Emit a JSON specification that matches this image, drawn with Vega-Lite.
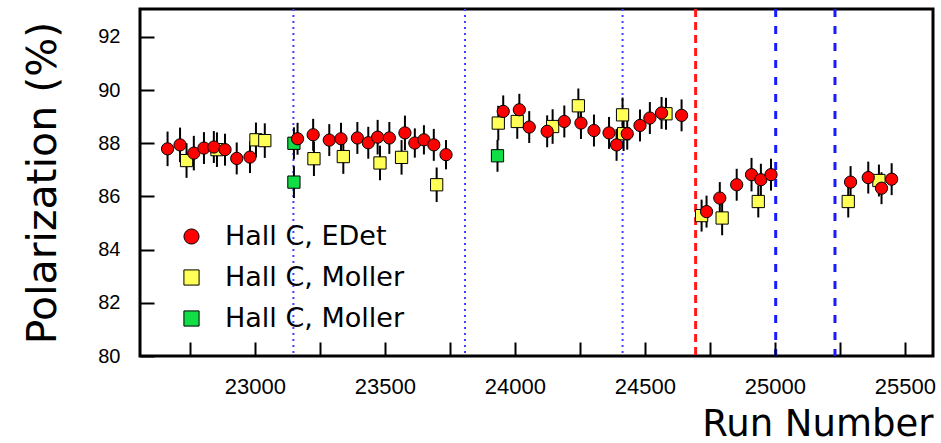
{
  "$schema": "https://vega.github.io/schema/vega-lite/v6.json",
  "width": 793,
  "height": 347,
  "autosize": {"type": "none"},
  "padding": {"left": 140, "top": 9, "right": 8, "bottom": 87},
  "background": "white",
  "config": {"view": {"stroke": "black", "strokeWidth": 3}, "font": "Liberation Sans"},
  "datasets": {
    "vlines": [
      {"run": 23148, "kind": "dotted"},
      {"run": 23808, "kind": "dotted"},
      {"run": 24414, "kind": "dotted"},
      {"run": 24695, "kind": "reddash"},
      {"run": 25003, "kind": "bluedash"},
      {"run": 25231, "kind": "bluedash"}
    ],
    "points": [
      {"series": "Hall C, Moller ", "run": 23150, "pol": 88.0, "err": 0.6},
      {"series": "Hall C, Moller ", "run": 23150, "pol": 86.54, "err": 0.6},
      {"series": "Hall C, Moller ", "run": 23933, "pol": 87.53, "err": 0.6},
      {"series": "Hall C, Moller", "run": 22737, "pol": 87.35, "err": 0.65},
      {"series": "Hall C, Moller", "run": 22854, "pol": 87.76, "err": 0.65},
      {"series": "Hall C, Moller", "run": 23004, "pol": 88.13, "err": 0.65},
      {"series": "Hall C, Moller", "run": 23038, "pol": 88.1, "err": 0.65},
      {"series": "Hall C, Moller", "run": 23227, "pol": 87.42, "err": 0.65},
      {"series": "Hall C, Moller", "run": 23340, "pol": 87.5, "err": 0.65},
      {"series": "Hall C, Moller", "run": 23481, "pol": 87.26, "err": 0.65},
      {"series": "Hall C, Moller", "run": 23564, "pol": 87.47, "err": 0.65},
      {"series": "Hall C, Moller", "run": 23699, "pol": 86.44, "err": 0.65},
      {"series": "Hall C, Moller", "run": 23936, "pol": 88.76, "err": 0.65},
      {"series": "Hall C, Moller", "run": 24009, "pol": 88.82, "err": 0.65},
      {"series": "Hall C, Moller", "run": 24145, "pol": 88.63, "err": 0.65},
      {"series": "Hall C, Moller", "run": 24244, "pol": 89.41, "err": 0.65},
      {"series": "Hall C, Moller", "run": 24414, "pol": 89.07, "err": 0.65},
      {"series": "Hall C, Moller", "run": 24418, "pol": 88.36, "err": 0.65},
      {"series": "Hall C, Moller", "run": 24581, "pol": 89.11, "err": 0.6},
      {"series": "Hall C, Moller", "run": 24718, "pol": 85.28, "err": 0.6},
      {"series": "Hall C, Moller", "run": 24797, "pol": 85.19, "err": 0.65},
      {"series": "Hall C, Moller", "run": 24936, "pol": 85.81, "err": 0.6},
      {"series": "Hall C, Moller", "run": 25282, "pol": 85.81, "err": 0.6},
      {"series": "Hall C, Moller", "run": 25400, "pol": 86.6, "err": 0.6},
      {"series": "Hall C, EDet", "run": 22664, "pol": 87.79, "err": 0.65},
      {"series": "Hall C, EDet", "run": 22712, "pol": 87.94, "err": 0.65},
      {"series": "Hall C, EDet", "run": 22765, "pol": 87.63, "err": 0.65},
      {"series": "Hall C, EDet", "run": 22804, "pol": 87.82, "err": 0.6},
      {"series": "Hall C, EDet", "run": 22842, "pol": 87.86, "err": 0.6},
      {"series": "Hall C, EDet", "run": 22885, "pol": 87.76, "err": 0.6},
      {"series": "Hall C, EDet", "run": 22930, "pol": 87.43, "err": 0.6},
      {"series": "Hall C, EDet", "run": 22981, "pol": 87.48, "err": 0.6},
      {"series": "Hall C, EDet", "run": 23164, "pol": 88.17, "err": 0.6},
      {"series": "Hall C, EDet", "run": 23224, "pol": 88.32, "err": 0.6},
      {"series": "Hall C, EDet", "run": 23286, "pol": 88.12, "err": 0.6},
      {"series": "Hall C, EDet", "run": 23331, "pol": 88.17, "err": 0.6},
      {"series": "Hall C, EDet", "run": 23394, "pol": 88.2, "err": 0.6},
      {"series": "Hall C, EDet", "run": 23436, "pol": 88.02, "err": 0.6},
      {"series": "Hall C, EDet", "run": 23472, "pol": 88.23, "err": 0.65},
      {"series": "Hall C, EDet", "run": 23517, "pol": 88.2, "err": 0.6},
      {"series": "Hall C, EDet", "run": 23577, "pol": 88.39, "err": 0.65},
      {"series": "Hall C, EDet", "run": 23615, "pol": 88.01, "err": 0.55},
      {"series": "Hall C, EDet", "run": 23650, "pol": 88.13, "err": 0.55},
      {"series": "Hall C, EDet", "run": 23688, "pol": 87.94, "err": 0.6},
      {"series": "Hall C, EDet", "run": 23735, "pol": 87.57, "err": 0.55},
      {"series": "Hall C, EDet", "run": 23955, "pol": 89.2, "err": 0.6},
      {"series": "Hall C, EDet", "run": 24017, "pol": 89.26, "err": 0.6},
      {"series": "Hall C, EDet", "run": 24055, "pol": 88.61, "err": 0.6},
      {"series": "Hall C, EDet", "run": 24124, "pol": 88.45, "err": 0.6},
      {"series": "Hall C, EDet", "run": 24190, "pol": 88.82, "err": 0.6},
      {"series": "Hall C, EDet", "run": 24254, "pol": 88.76, "err": 0.6},
      {"series": "Hall C, EDet", "run": 24304, "pol": 88.48, "err": 0.6},
      {"series": "Hall C, EDet", "run": 24362, "pol": 88.39, "err": 0.6},
      {"series": "Hall C, EDet", "run": 24391, "pol": 87.94, "err": 0.6},
      {"series": "Hall C, EDet", "run": 24432, "pol": 88.36, "err": 0.6},
      {"series": "Hall C, EDet", "run": 24481, "pol": 88.67, "err": 0.6},
      {"series": "Hall C, EDet", "run": 24519, "pol": 88.95, "err": 0.6},
      {"series": "Hall C, EDet", "run": 24564, "pol": 89.14, "err": 0.6},
      {"series": "Hall C, EDet", "run": 24641, "pol": 89.05, "err": 0.6},
      {"series": "Hall C, EDet", "run": 24737, "pol": 85.43, "err": 0.6},
      {"series": "Hall C, EDet", "run": 24788, "pol": 85.94, "err": 0.6},
      {"series": "Hall C, EDet", "run": 24853, "pol": 86.44, "err": 0.6},
      {"series": "Hall C, EDet", "run": 24910, "pol": 86.82, "err": 0.63},
      {"series": "Hall C, EDet", "run": 24946, "pol": 86.63, "err": 0.6},
      {"series": "Hall C, EDet", "run": 24985, "pol": 86.82, "err": 0.6},
      {"series": "Hall C, EDet", "run": 25291, "pol": 86.54, "err": 0.6},
      {"series": "Hall C, EDet", "run": 25359, "pol": 86.71, "err": 0.6},
      {"series": "Hall C, EDet", "run": 25410, "pol": 86.31, "err": 0.6},
      {"series": "Hall C, EDet", "run": 25449, "pol": 86.65, "err": 0.6}
    ]
  },
  "encoding": {
    "x": {
      "field": "run",
      "type": "quantitative",
      "scale": {"domain": [22558, 25608], "nice": false, "zero": false},
      "axis": {
        "title": "Run Number",
        "values": [22750, 23000, 23250, 23500, 23750, 24000, 24250, 24500, 24750, 25000, 25250, 25500],
        "format": "d",
        "labelExpr": "datum.value % 500 === 0 ? datum.label : ''",
        "labelOverlap": false,
        "labelFlush": false,
        "domain": false,
        "grid": false,
        "ticks": true,
        "tickColor": "#000000",
        "tickWidth": 2,
        "tickSize": -14,
        "tickOpacity": 1,
        "zindex": 1,
        "labelPadding": 51,
        "labelBaseline": "alphabetic",
        "labelFont": "Liberation Sans",
        "labelFontSize": 22,
        "labelColor": "black",
        "titleFont": "DejaVu Sans",
        "titleFontSize": 37,
        "titleFontWeight": "normal",
        "titleColor": "black",
        "titleX": 793,
        "titleY": 87,
        "titleAlign": "right",
        "titleBaseline": "bottom"
      }
    }
  },
  "layer": [
    {
      "data": {"name": "vlines"},
      "transform": [{"filter": "datum.kind === 'dotted'"}],
      "mark": {"type": "rule", "color": "#4040ff", "strokeWidth": 2, "strokeDash": [2, 4]},
      "encoding": {}
    },
    {
      "data": {"name": "vlines"},
      "transform": [{"filter": "datum.kind === 'reddash'"}],
      "mark": {"type": "rule", "color": "#ff1a1a", "strokeWidth": 3, "strokeDash": [8, 5]},
      "encoding": {}
    },
    {
      "data": {"name": "vlines"},
      "transform": [{"filter": "datum.kind === 'bluedash'"}],
      "mark": {"type": "rule", "color": "#1a1aff", "strokeWidth": 3, "strokeDash": [8, 9]},
      "encoding": {}
    },
    {
      "data": {"name": "points"},
      "mark": {"type": "errorbar", "color": "black", "thickness": 2},
      "encoding": {
        "y": {
          "field": "pol",
          "type": "quantitative",
          "scale": {"domain": [80, 93.05], "nice": false, "zero": false},
          "axis": {
            "title": "Polarization (%)",
            "values": [80, 80.5, 81, 81.5, 82, 82.5, 83, 83.5, 84, 84.5, 85, 85.5, 86, 86.5, 87, 87.5, 88, 88.5, 89, 89.5, 90, 90.5, 91, 91.5, 92, 92.5],
            "format": "d",
            "labelExpr": "datum.value % 2 === 0 ? datum.label : ''",
            "labelOverlap": false,
            "labelFlush": false,
            "domain": false,
            "grid": false,
            "ticks": true,
            "tickColor": "#000000",
            "tickWidth": 2,
            "tickSize": -14,
            "tickOpacity": 1,
            "zindex": 1,
            "labelPadding": 34,
            "labelFont": "Liberation Sans",
            "labelFontSize": 20,
            "labelColor": "black",
            "titleFont": "DejaVu Sans",
            "titleFontSize": 41,
            "titleFontWeight": "normal",
            "titleColor": "black",
            "titleAngle": -90,
            "titleX": -97,
            "titleY": 173.5,
            "titleAlign": "center",
            "titleBaseline": "middle"
          }
        },
        "yError": {"field": "err"}
      }
    },
    {
      "data": {"name": "points"},
      "mark": {"type": "point", "filled": true, "stroke": "black", "strokeWidth": 1, "size": 150, "opacity": 1},
      "encoding": {
        "y": {"field": "pol", "type": "quantitative"},
        "color": {
          "field": "series",
          "type": "nominal",
          "scale": {"domain": ["Hall C, EDet", "Hall C, Moller", "Hall C, Moller "], "range": ["#ff0000", "#ffff55", "#11dd44"]},
          "legend": {
            "title": null,
            "orient": "none",
            "legendX": 38,
            "legendY": 214,
            "labelFont": "DejaVu Sans",
            "labelFontSize": 27,
            "labelColor": "black",
            "labelLimit": 500,
            "symbolSize": 230,
            "symbolStrokeColor": "black",
            "symbolStrokeWidth": 1,
            "symbolOpacity": 1,
            "rowPadding": 13,
            "labelOffset": 20
          }
        },
        "shape": {
          "field": "series",
          "type": "nominal",
          "scale": {"domain": ["Hall C, EDet", "Hall C, Moller", "Hall C, Moller "], "range": ["circle", "square", "square"]}
        }
      }
    }
  ]
}
